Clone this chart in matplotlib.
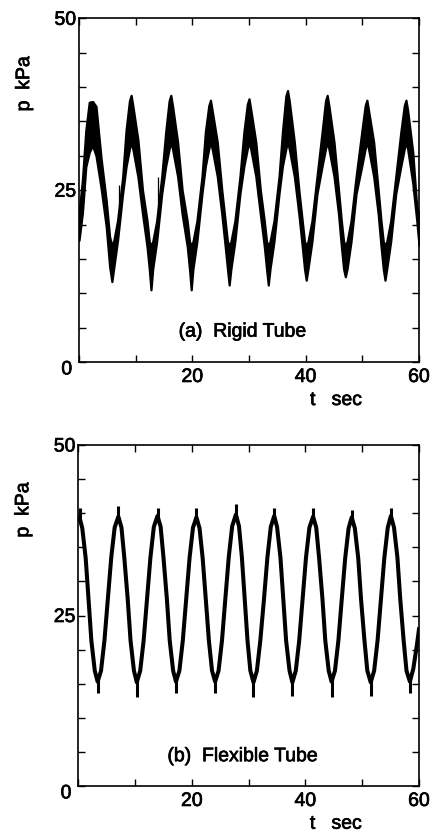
"""
Pressure traces for the rigid and flexible tube runs
"""
import matplotlib
matplotlib.use('Agg')
import matplotlib.pyplot as plt
import matplotlib.patheffects as pe
import numpy as np

# (a) rigid tube: noisy band, upper and lower edge in kPa
rigid_t = [0.0, 0.6, 1.2, 1.8, 2.4, 3.0, 3.9, 4.8, 5.4, 5.8,
           6.1, 6.8, 7.7, 8.3, 8.9, 9.2, 9.5, 10.4, 11.2, 12.0, 12.4, 12.7,
           13.0, 13.7, 14.6, 15.3, 15.9, 16.2, 16.5, 17.4, 18.2, 19.1, 19.5, 19.8,
           20.1, 20.8, 21.7, 22.3, 22.9, 23.2, 23.5, 24.4, 25.2, 25.8, 26.2, 26.5,
           26.8, 27.5, 28.4, 29.1, 29.7, 30.0, 30.3, 31.2, 32.0, 32.7, 33.1, 33.4,
           33.7, 34.4, 35.3, 35.9, 36.5, 36.8, 37.1, 38.0, 38.8, 39.4, 39.8, 40.1,
           40.4, 41.1, 42.0, 42.9, 43.5, 43.8, 44.1, 45.0, 45.8, 46.3, 46.7, 47.0,
           47.3, 48.0, 48.9, 49.9, 50.5, 50.8, 51.1, 52.0, 52.8, 53.3, 53.7, 54.0,
           54.3, 55.0, 55.9, 56.8, 57.4, 57.7, 58.0, 58.9, 59.6, 60.0]
rigid_hi = [21.7, 26.5, 33.7, 37.8, 37.9, 37.2, 29.6, 23.5, 18.2, 17.0,
            17.5, 20.6, 26.9, 33.7, 38.0, 38.8, 37.3, 32.3, 25.0, 20.6, 17.5, 17.0,
            17.5, 20.5, 27.0, 33.5, 38.0, 38.8, 37.3, 32.0, 25.0, 20.5, 17.5, 17.0,
            17.5, 20.5, 27.0, 33.5, 37.3, 38.1, 36.6, 32.0, 25.0, 20.5, 17.5, 17.0,
            17.5, 20.5, 27.0, 33.5, 37.5, 38.3, 36.8, 32.0, 25.0, 20.5, 17.5, 17.0,
            17.5, 20.5, 27.0, 33.5, 38.7, 39.5, 38.0, 32.0, 25.0, 20.5, 17.5, 17.0,
            17.5, 20.5, 27.0, 33.5, 38.0, 38.8, 37.3, 32.0, 25.0, 20.5, 17.5, 17.0,
            17.5, 20.5, 27.0, 33.5, 37.3, 38.1, 36.6, 32.0, 25.0, 20.5, 17.5, 17.0,
            17.5, 20.5, 27.0, 33.5, 37.3, 38.1, 36.6, 30.5, 22.6, 21.5]
rigid_lo = [17.7, 21.7, 28.4, 30.5, 31.5, 30.0, 25.3, 19.7, 13.9, 11.7,
            13.5, 17.7, 24.5, 28.4, 31.0, 32.0, 31.0, 26.9, 21.6, 16.8, 13.5, 10.5,
            13.5, 17.5, 24.5, 28.5, 31.0, 32.0, 31.0, 27.0, 21.5, 16.8, 13.5, 10.5,
            13.5, 17.5, 24.5, 28.5, 31.0, 32.0, 31.0, 27.0, 21.5, 16.8, 13.5, 11.2,
            13.5, 17.5, 24.5, 28.5, 31.0, 32.0, 31.0, 27.0, 21.5, 16.8, 13.5, 11.2,
            13.5, 17.5, 24.5, 28.5, 31.0, 32.0, 31.0, 27.0, 21.5, 16.8, 13.5, 11.9,
            13.5, 17.5, 24.5, 28.5, 31.0, 32.0, 31.0, 27.0, 21.5, 16.8, 13.5, 12.4,
            13.5, 17.5, 24.5, 28.5, 31.0, 32.0, 31.0, 27.0, 21.5, 16.8, 13.5, 11.9,
            13.5, 17.5, 24.5, 28.5, 31.0, 32.0, 31.0, 26.0, 20.6, 17.0]

# isolated glitches on the rigid trace
rigid_spike_t = [7.0, 14.0, 31.6]
rigid_spike_lo = [21.1, 21.7, 24.0]
rigid_spike_hi = [25.7, 26.9, 26.8]

# (b) flexible tube: centre of the trace
flex_t = [0.0, 0.2, 0.7, 1.3, 1.8, 2.3, 2.9, 3.4,
          4.0, 4.6, 5.2, 5.8, 6.4, 7.05,
          7.6, 8.1, 8.7, 9.2, 9.8, 10.3,
          10.9, 11.5, 12.1, 12.7, 13.3, 13.95,
          14.5, 15.0, 15.6, 16.1, 16.7, 17.2,
          17.8, 18.4, 19.0, 19.6, 20.2, 20.8,
          21.35, 21.9, 22.45, 23.0, 23.55, 24.1,
          24.7, 25.3, 25.9, 26.5, 27.1, 27.75,
          28.3, 28.8, 29.3, 29.8, 30.3, 30.85,
          31.45, 32.05, 32.7, 33.3, 33.9, 34.5,
          35.0, 35.6, 36.1, 36.6, 37.2, 37.7,
          38.3, 38.9, 39.5, 40.1, 40.7, 41.35,
          41.9, 42.4, 43.0, 43.5, 44.1, 44.6,
          45.2, 45.8, 46.4, 47.0, 47.6, 48.15,
          48.7, 49.3, 49.8, 50.4, 50.9, 51.5,
          52.1, 52.7, 53.3, 53.9, 54.5, 55.05,
          55.6, 56.2, 56.7, 57.3, 57.8, 58.4,
          59.0, 59.6, 60.0]
flex_p = [39.3, 39.4, 37.8, 33.4, 27.4, 21.3, 16.9, 15.3,
          16.9, 21.3, 27.4, 33.5, 37.9, 39.5,
          37.9, 33.5, 27.4, 21.3, 16.9, 15.2,
          16.9, 21.3, 27.4, 33.5, 38.0, 39.6,
          38.0, 33.5, 27.4, 21.3, 16.9, 15.3,
          16.9, 21.3, 27.4, 33.5, 37.9, 39.4,
          37.8, 33.4, 27.4, 21.3, 16.9, 15.3,
          16.9, 21.3, 27.5, 33.6, 38.1, 39.8,
          38.1, 33.6, 27.5, 21.3, 16.9, 15.2,
          16.9, 21.3, 27.4, 33.5, 38.0, 39.6,
          38.0, 33.5, 27.4, 21.3, 16.9, 15.2,
          16.9, 21.3, 27.4, 33.5, 37.9, 39.5,
          37.9, 33.5, 27.4, 21.3, 16.9, 15.3,
          16.9, 21.3, 27.4, 33.4, 37.8, 39.4,
          37.8, 33.4, 27.3, 21.3, 16.9, 15.2,
          16.9, 21.3, 27.4, 33.5, 37.9, 39.6,
          37.9, 33.5, 27.4, 21.3, 16.9, 15.3,
          17.2, 20.5, 23.0]

# noise at the crests and troughs of the flexible trace
flex_pk_t = [0.3, 7.05, 13.95, 20.8, 27.75, 34.5, 41.35, 48.15, 55.05]
flex_pk_top = [40.7, 41.0, 40.8, 40.7, 41.4, 40.8, 40.7, 40.5, 40.8]
flex_tr_t = [3.4, 10.3, 17.2, 24.1, 30.85, 37.7, 44.6, 51.5, 58.4]
flex_tr_bot = [13.7, 13.0, 13.6, 13.7, 13.1, 13.2, 13.1, 13.2, 13.6]

FONT = ['Liberation Sans', 'DejaVu Sans']
FS = 14
# slightly heavier strokes for the text
HEAVY = [pe.withStroke(linewidth=0.5, foreground='black')]


def put_text(ax, x, y, s, **kw):
    ax.text(x, y, s, transform=ax.transAxes, ha='center', va='center',
            fontsize=FS, family=FONT, path_effects=HEAVY, **kw)


def style_axes(ax, caption, cap_xy):
    ax.set_xlim(0, 60)
    ax.set_ylim(0, 50)
    for s in ax.spines.values():
        s.set_linewidth(1.2)
    ax.set_xticks(np.arange(0, 61, 10))
    ax.set_xticklabels(['', '', '20', '', '40', '', '60'])
    ax.set_yticks(np.arange(0, 51, 5))
    ax.set_yticklabels([''] * 5 + ['25'] + [''] * 4 + ['50'])
    ax.tick_params(axis='both', direction='in', length=5, width=1.0,
                   top=True, right=True, labelsize=FS)
    ax.tick_params(axis='x', pad=5)
    ax.tick_params(axis='y', pad=2)
    for lab in ax.get_xticklabels() + ax.get_yticklabels():
        lab.set_family(FONT)
        lab.set_path_effects(HEAVY)
    put_text(ax, -0.036, -0.023, '0')
    put_text(ax, -0.16, 0.81, 'p  kPa', rotation=90)
    put_text(ax, 0.756, -0.112, 't   sec')
    put_text(ax, cap_xy[0], cap_xy[1], caption)


if __name__ == '__main__':
    fig = plt.figure(figsize=(4.37, 8.33), dpi=100)
    ax_a = fig.add_axes([0.1808, 0.5654, 0.778, 0.4126])
    ax_b = fig.add_axes([0.1792, 0.0564, 0.7796, 0.4094])

    # rigid tube
    ax_a.fill_between(rigid_t, rigid_lo, rigid_hi, color='black', lw=1.6)
    ax_a.vlines(rigid_spike_t, rigid_spike_lo, rigid_spike_hi, color='black', lw=0.9)
    style_axes(ax_a, '(a)  Rigid Tube', (0.482, 0.087))

    # flexible tube
    ax_b.plot(flex_t, flex_p, color='black', lw=2.9, solid_joinstyle='round')
    ax_b.vlines(flex_pk_t, 38.8, flex_pk_top, color='black', lw=2.2)
    ax_b.vlines(flex_tr_t, flex_tr_bot, 15.8, color='black', lw=2.2)
    style_axes(ax_b, '(b)  Flexible Tube', (0.483, 0.086))

    fig.savefig('out.png', dpi=100)
